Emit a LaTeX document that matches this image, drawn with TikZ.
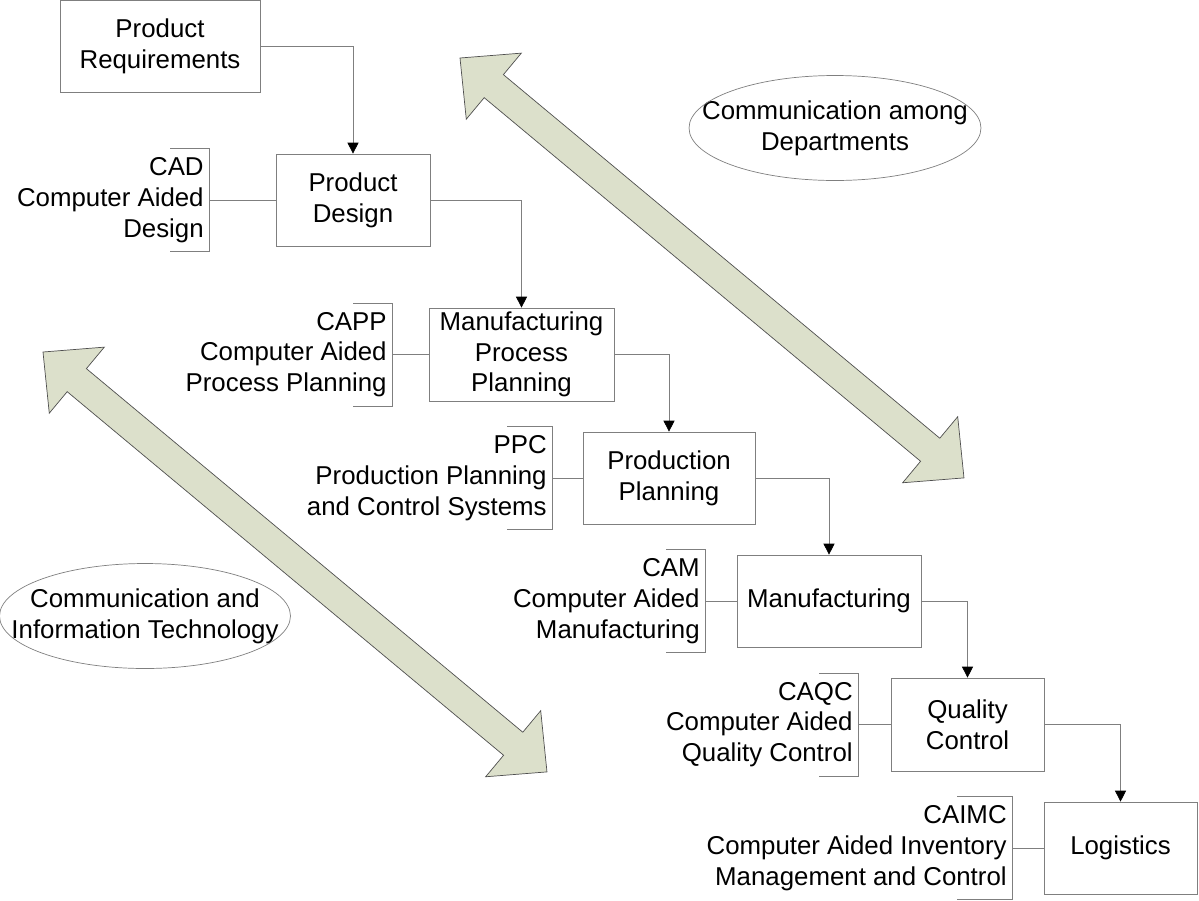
\documentclass[tikz,border=0pt]{standalone}
\usepackage{fontspec}
\setmainfont{Liberation Sans}
\usepackage{xcolor}
\definecolor{linegray}{HTML}{7F7F7F}
\definecolor{commfill}{HTML}{DCE0CB}
\definecolor{commedge}{HTML}{4F4F4F}
\usetikzlibrary{arrows.meta}

\tikzset{
  dept/.style={draw=linegray, minimum height=1.84cm, align=center, inner sep=0pt},
  tool/.style={anchor=east, align=right, minimum height=2.04cm, inner xsep=0.1cm, inner ysep=0pt},
  bracket/.style={draw=linegray},
  link/.style={draw=linegray},
  flow/.style={draw=linegray, -{Triangle[width=0.22cm, length=0.22cm, color=black]}},
  note/.style={align=center},
  topic/.style={draw=linegray},
  comm/.style={draw=commedge, fill=commfill}
}

\begin{document}
\begin{tikzpicture}[x=0.02cm, y=-0.02cm, every node/.style={font=\fontsize{14.7}{17.5}\selectfont}]
  \useasboundingbox (0,0) rectangle (1199,900);
  % Communication arrows
  \foreach \sx/\sy in {460/58, 43/352}
    \draw[comm, shift={(\sx,\sy)}, rotate=-39.8] (0,0) -- (44,-43) -- (44,-15) -- (612,-15) -- (612,-43) -- (656,0) -- (612,43) -- (612,15) -- (44,15) -- (44,43) -- cycle;
  % Notes
  \node[note] (deptnote) at (835,128) {Communication among\\Departments};
  \draw[topic] (deptnote.center) ellipse [x radius=2.92cm, y radius=1.05cm];
  \node[note] (itnote) at (145,616) {Communication and\\Information Technology};
  \draw[topic] (itnote.center) ellipse [x radius=2.91cm, y radius=1.05cm];
  % Departments
  \node[dept, minimum width=4cm] (pr) at (160,46) {Product\\Requirements};
  \node[dept, minimum width=3.08cm] (pd) at (353,200) {Product\\Design};
  \node[dept, minimum width=3.7cm, minimum height=1.86cm] (mpp) at (521.5,354.5) {Manufacturing\\Process\\Planning};
  \node[dept, minimum width=3.44cm] (pp) at (669,478) {Production\\Planning};
  \node[dept, minimum width=3.68cm] (mfg) at (829,601) {Manufacturing};
  \node[dept, minimum width=3.06cm, minimum height=1.86cm] (qc) at (967.5,724.5) {Quality\\Control};
  \node[dept, minimum width=3.06cm] (logistics) at (1120.5,848) {Logistics};
  % Computer aided tools
  \node[tool] (cad) at (209,200) {CAD\\Computer Aided\\Design};
  \node[tool] (capp) at (392,354.5) {CAPP\\Computer Aided\\Process Planning};
  \node[tool] (ppc) at (552,478) {PPC\\Production Planning\\and Control Systems};
  \node[tool] (cam) at (705,601) {CAM\\Computer Aided\\Manufacturing};
  \node[tool] (caqc) at (858,724.5) {CAQC\\Computer Aided\\Quality Control};
  \node[tool] (caimc) at (1012,848) {CAIMC\\Computer Aided Inventory\\Management and Control};
  \foreach \t/\w in {cad/39, capp/39, ppc/45, cam/39, caqc/39, caimc/55}
    \draw[bracket] (\t.north east) ++(-\w,0) -- (\t.north east) -- (\t.south east) -- ++(-\w,0);
  \foreach \t/\d in {cad/pd, capp/mpp, ppc/pp, cam/mfg, caqc/qc, caimc/logistics}
    \draw[link] (\t.east) -- (\d.west);
  % Flow
  \draw[flow] (pr.east) -| (pd.north);
  \draw[flow] (pd.east) -| (mpp.north);
  \draw[flow] (mpp.east) -| (pp.north);
  \draw[flow] (pp.east) -| (mfg.north);
  \draw[flow] (mfg.east) -| (qc.north);
  \draw[flow] (qc.east) -| (logistics.north);
\end{tikzpicture}
\end{document}
